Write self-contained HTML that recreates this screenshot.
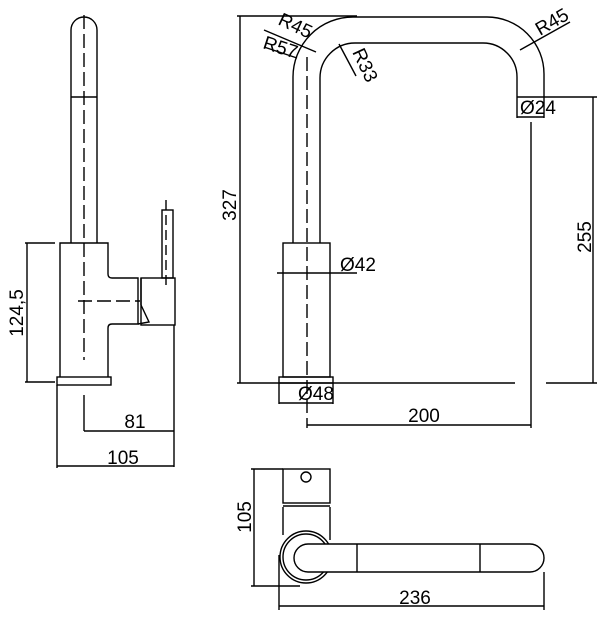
<!DOCTYPE html>
<html><head><meta charset="utf-8"><style>
html,body{margin:0;padding:0;background:#fff;}
svg{display:block;}
text{font-family:"Liberation Sans","DejaVu Sans",sans-serif;font-size:19px;fill:#000;}
</style></head><body>
<svg width="602" height="618" viewBox="0 0 602 618" xmlns="http://www.w3.org/2000/svg">
<g fill="none" stroke="#000" stroke-width="1.4">
<!-- LEFT VIEW -->
<path d="M71,243 V30 A13,13 0 0 1 97,30 V243"/>
<line x1="71" y1="97" x2="97" y2="97"/>
<path d="M60,377 V243 H108 V274 Q108,278 112,278 H138 V324 H112 Q108,324 108,328 V377"/>
<line x1="141" y1="278" x2="141" y2="305"/>
<rect x="141" y="278" width="34" height="47"/>
<path d="M141,305 L149,322 L138,324"/>
<rect x="162" y="210" width="11" height="68"/>
<rect x="57" y="377" width="54" height="8"/>
<line x1="84" y1="15" x2="84" y2="360" stroke-dasharray="14,5"/>
<line x1="78" y1="301" x2="140" y2="301" stroke-dasharray="14,5"/>
<line x1="166" y1="200" x2="166" y2="290" stroke-dasharray="10,5"/>
<line x1="27" y1="243" x2="27" y2="382"/>
<line x1="25" y1="243" x2="55" y2="243"/>
<line x1="25" y1="382" x2="55" y2="382"/>
<line x1="84" y1="395" x2="84" y2="431"/>
<line x1="174" y1="325" x2="174" y2="467"/>
<line x1="84" y1="431" x2="174" y2="431"/>
<line x1="57" y1="385" x2="57" y2="468"/>
<line x1="57" y1="466" x2="174" y2="466"/>

<!-- MIDDLE VIEW -->
<path d="M293,243 V77 A60,60 0 0 1 353,17 H487 A57,57 0 0 1 544,74 V97"/>
<path d="M320,243 V78 A35,35 0 0 1 355,43 H483 A34,34 0 0 1 517,77 V97"/>
<line x1="517" y1="97" x2="544" y2="97"/>
<rect x="283" y="243" width="47" height="134"/>
<rect x="279" y="377" width="54" height="6"/>
<line x1="307" y1="57" x2="307" y2="428" stroke-dasharray="14,5"/>
<line x1="240" y1="16" x2="240" y2="383"/>
<line x1="237" y1="16" x2="357" y2="16"/>
<line x1="237" y1="383" x2="515" y2="383"/>
<line x1="546" y1="383" x2="597" y2="383"/>
<line x1="544" y1="97" x2="597" y2="97"/>
<line x1="593" y1="97" x2="593" y2="383"/>
<line x1="517" y1="97" x2="517" y2="118"/>
<line x1="544" y1="97" x2="544" y2="118"/>
<line x1="517" y1="117" x2="544" y2="117"/>
<line x1="277" y1="273" x2="357" y2="273"/>
<line x1="279" y1="383" x2="279" y2="404"/>
<line x1="333" y1="383" x2="333" y2="404"/>
<line x1="279" y1="403" x2="333" y2="403"/>
<line x1="531" y1="122" x2="531" y2="428"/>
<line x1="307" y1="425" x2="531" y2="425"/>
<line x1="264" y1="30" x2="316" y2="52"/>
<line x1="264" y1="47" x2="297" y2="58"/>
<line x1="339" y1="44" x2="356" y2="76"/>
<line x1="520" y1="50" x2="570" y2="22"/>

<!-- BOTTOM VIEW -->
<rect x="283" y="469" width="47" height="34"/>
<circle cx="306" cy="477" r="5"/>
<line x1="283" y1="506" x2="330" y2="506"/>
<path d="M283,507 V535 M330,507 V540"/>
<circle cx="306" cy="557" r="26"/>
<circle cx="306" cy="557" r="23"/>
<path d="M308,544 H530 A14,14 0 0 1 530,572 H308 A14,14 0 0 1 308,544 Z" fill="#fff"/>
<line x1="357" y1="544" x2="357" y2="572"/>
<line x1="480" y1="544" x2="480" y2="572"/>
<line x1="254" y1="469" x2="254" y2="586"/>
<line x1="251" y1="469" x2="283" y2="469"/>
<line x1="251" y1="586" x2="300" y2="586"/>
<line x1="279" y1="555" x2="279" y2="610"/>
<line x1="544" y1="572" x2="544" y2="610"/>
<line x1="279" y1="606" x2="544" y2="606"/>
</g>
<text transform="translate(23,313) rotate(-90)" text-anchor="middle">124,5</text>
<text x="135" y="428" text-anchor="middle">81</text>
<text x="123" y="464" text-anchor="middle">105</text>
<text transform="translate(236,205) rotate(-90)" text-anchor="middle">327</text>
<text transform="translate(591,237) rotate(-90)" text-anchor="middle">255</text>
<text x="538" y="114" text-anchor="middle">Ø24</text>
<text x="358" y="271" text-anchor="middle">Ø42</text>
<text x="316" y="400" text-anchor="middle">Ø48</text>
<text x="424" y="422" text-anchor="middle">200</text>
<text transform="translate(277,24) rotate(25)" font-size="17">R45</text>
<text transform="translate(262,48) rotate(18)" font-size="17">R57</text>
<text transform="translate(352,52) rotate(65)" font-size="17">R33</text>
<text transform="translate(540,36) rotate(-30)" font-size="17">R45</text>
<text transform="translate(251,517) rotate(-90)" text-anchor="middle">105</text>
<text x="415" y="604" text-anchor="middle">236</text>
</svg>
</body></html>
